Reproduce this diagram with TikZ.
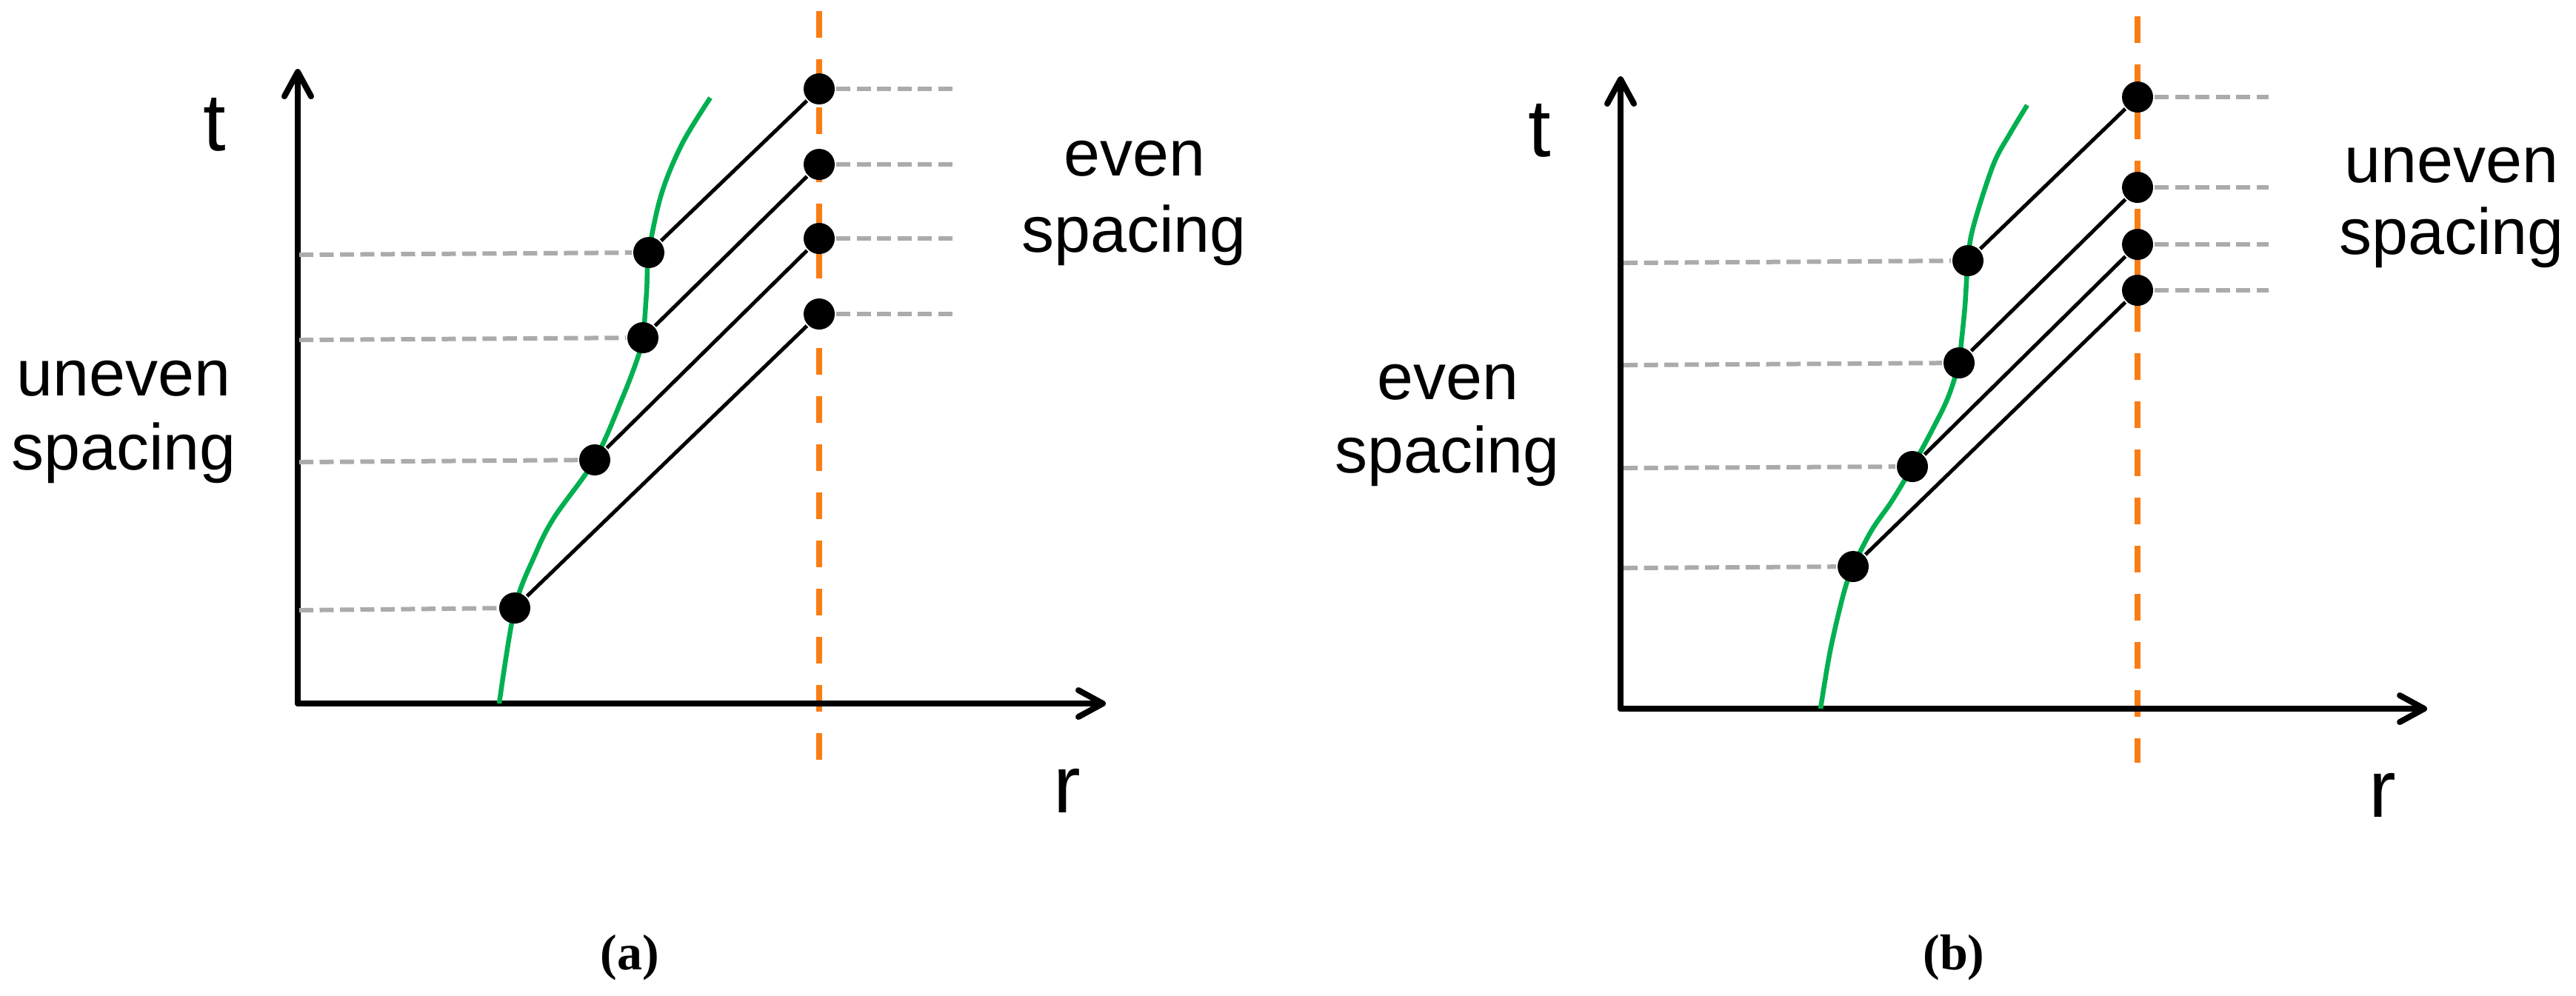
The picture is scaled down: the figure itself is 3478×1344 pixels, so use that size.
\documentclass[tikz,border=0pt]{standalone}
\usepackage{fontspec}
\setmainfont{Liberation Sans}
\newfontfamily\capfont{Liberation Serif}
\usetikzlibrary{arrows.meta}
\definecolor{ggreen}{RGB}{0,176,80}
\definecolor{oorange}{RGB}{250,125,20}
\definecolor{lgray}{RGB}{172,170,170}
\begin{document}
\begin{tikzpicture}[x=0.1pt,y=-0.1pt,
  axis/.style={line width=0.8pt, line cap=round, -{Straight Barb[length=3.3pt,width=3.6pt,round]}},
  orangedash/.style={draw=oorange, line width=0.85pt, dash pattern=on 3.6pt off 2.9pt},
  graydash/.style={draw=lgray, line width=0.6pt, dash pattern=on 1.9pt off 0.85pt},
  greencurve/.style={draw=ggreen, line width=0.65pt},
  ray/.style={draw=black, line width=0.5pt},
  dot/.style={circle, fill=black, inner sep=0pt, minimum size=4.2pt},
  lbl/.style={font=\fontsize{8.8}{10}\selectfont, anchor=base, inner sep=0pt},
  biglbl/.style={font=\fontsize{11}{12}\selectfont, anchor=base, inner sep=0pt},
  caplbl/.style={font=\capfont\bfseries\fontsize{6.8}{8}\selectfont, anchor=base, inner sep=0pt}]
\useasboundingbox (0,0) rectangle (3478,1344);

% ---------------- panel (a) ----------------
\coordinate (Ao) at (402,950);
\coordinate (Ayt) at (402,93);
\coordinate (Axt) at (1493,950);
\coordinate (Aot) at (1106,15);
\coordinate (Aob) at (1106,1030);
\draw[orangedash] (Aot) -- (Aob);
\draw[axis] (Ao) -- (Ayt);
\draw[axis] (Ao) -- (Axt);
\draw[greencurve] plot[smooth, tension=0.55] coordinates {(674,950) (695,821) (722,750) (748,699) (803,621) (840,538) (860,486) (868,456) (873,394) (876,341) (893,262) (921,194) (959,132)};

\node[dot] (AL1) at (695,821) {};
\node[dot] (AL2) at (803,621) {};
\node[dot] (AL3) at (868,456) {};
\node[dot] (AL4) at (876,341) {};
\node[dot] (AR1) at (1106,120) {};
\node[dot] (AR2) at (1106,222) {};
\node[dot] (AR3) at (1106,322) {};
\node[dot] (AR4) at (1106,424) {};

\coordinate (Ag1) at (404,824);
\coordinate (Ag2) at (404,624);
\coordinate (Ag3) at (404,459);
\coordinate (Ag4) at (404,344);
\coordinate (Ah1) at (1288,120);
\coordinate (Ah2) at (1288,222);
\coordinate (Ah3) at (1288,322);
\coordinate (Ah4) at (1288,424);
\draw[graydash] (Ag1) -- (AL1);
\draw[graydash] (Ag2) -- (AL2);
\draw[graydash] (Ag3) -- (AL3);
\draw[graydash] (Ag4) -- (AL4);
\draw[graydash] (AR1) -- (Ah1);
\draw[graydash] (AR2) -- (Ah2);
\draw[graydash] (AR3) -- (Ah3);
\draw[graydash] (AR4) -- (Ah4);

\draw[ray] (AL4) -- (AR1);
\draw[ray] (AL3) -- (AR2);
\draw[ray] (AL2) -- (AR3);
\draw[ray] (AL1) -- (AR4);

\node[biglbl] (At) at (290,203) {t};
\node[biglbl] (Ar) at (1441,1097) {r};
\node[lbl] (Au1) at (167,534) {uneven};
\node[lbl] (Au2) at (167,634) {spacing};
\node[lbl] (Ae1) at (1532,237) {even};
\node[lbl] (Ae2) at (1531,340) {spacing};
\node[caplbl] (Acap) at (850,1309) {(a)};

% ---------------- panel (b) ----------------
\coordinate (Bo) at (2188,957);
\coordinate (Byt) at (2188,103);
\coordinate (Bxt) at (3277,957);
\coordinate (Bot) at (2886,22);
\coordinate (Bob) at (2886,1030);
\draw[orangedash] (Bot) -- (Bob);
\draw[axis] (Bo) -- (Byt);
\draw[axis] (Bo) -- (Bxt);
\draw[greencurve] plot[smooth, tension=0.55] coordinates {(2458,957) (2471,879) (2489,802) (2502,765) (2527,716) (2554,677) (2582,630) (2609,580) (2630,537) (2645,490) (2648,463) (2653,413) (2657,352) (2664,307) (2691,223) (2714,180) (2737,142)};

\node[dot] (BL1) at (2502,765) {};
\node[dot] (BL2) at (2582,630) {};
\node[dot] (BL3) at (2645,490) {};
\node[dot] (BL4) at (2657,352) {};
\node[dot] (BR1) at (2886,131) {};
\node[dot] (BR2) at (2886,253) {};
\node[dot] (BR3) at (2886,330) {};
\node[dot] (BR4) at (2886,392) {};

\coordinate (Bg1) at (2192,767);
\coordinate (Bg2) at (2192,632);
\coordinate (Bg3) at (2192,493);
\coordinate (Bg4) at (2192,355);
\coordinate (Bh1) at (3063,131);
\coordinate (Bh2) at (3063,253);
\coordinate (Bh3) at (3063,330);
\coordinate (Bh4) at (3063,392);
\draw[graydash] (Bg1) -- (BL1);
\draw[graydash] (Bg2) -- (BL2);
\draw[graydash] (Bg3) -- (BL3);
\draw[graydash] (Bg4) -- (BL4);
\draw[graydash] (BR1) -- (Bh1);
\draw[graydash] (BR2) -- (Bh2);
\draw[graydash] (BR3) -- (Bh3);
\draw[graydash] (BR4) -- (Bh4);

\draw[ray] (BL4) -- (BR1);
\draw[ray] (BL3) -- (BR2);
\draw[ray] (BL2) -- (BR3);
\draw[ray] (BL1) -- (BR4);

\node[biglbl] (Bt) at (2079,211) {t};
\node[biglbl] (Br) at (3217,1103) {r};
\node[lbl] (Be1) at (1955,539) {even};
\node[lbl] (Be2) at (1954,638) {spacing};
\node[lbl] (Bu1) at (3310,246) {uneven};
\node[lbl] (Bu2) at (3310,343) {spacing};
\node[caplbl] (Bcap) at (2638,1309) {(b)};
\end{tikzpicture}
\end{document}
